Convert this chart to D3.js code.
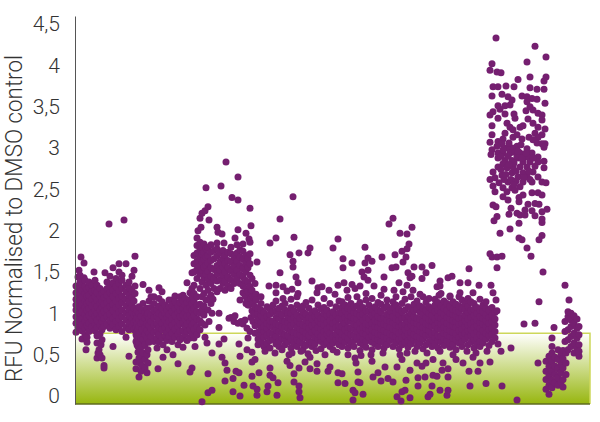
<!DOCTYPE html>
<html>
<head>
<meta charset="utf-8">
<style>
	html, body { margin: 0; padding: 0; background: #fff; }
	text { font-family: Roboto, sans-serif; font-weight: 300; fill: #333; }
</style>
<script src="https://cdn.jsdelivr.net/npm/d3@7"></script>
</head>
<body>
<svg id="chart" width="600" height="422"></svg>
<script>
	// every row is: compound index, then the RFU values read for it
	var yTicks = [0, 0.5, 1, 1.5, 2, 2.5, 3, 3.5, 4, 4.5];
	var threshold = 0.76;

	var firstBlock = [
		[1,.77,.88,.96,1.04,1.1,1.17,1.25,1.33],[3,.83,.91,.98,1.06,1.13,1.22,1.3,1.44],[4,1.52],[5,.93,1.0,1.08,1.16,1.23,1.31,1.38,1.46],
		[6,1.68],[7,.69,.79,.86,.94,1.02,1.11,1.19,1.28,1.35],[9,1.61,1.43],[10,.74,.82,.9,.99,1.07,1.15,1.24,1.32,1.4],[12,.65,.71,.85,.95,1.03,1.12,1.2,1.29],
		[11,.56],[14,.78,.88,.97,1.06,1.14,1.22,1.31,1.38],[17,.84,.92,1.0,1.09,1.17,1.26,1.34],[19,1.5],[20,.79,.87,.96,1.04,1.12,1.2,1.28,1.4],
		[22,.64,.46,.73,.83,.91,1.0,1.08,1.16,1.25,1.34],[23,.52],[24,.56],[25,.5,.75,.86,.95,1.03,1.12,1.21,1.3],[26,.62],[27,.68,.46,.8,.9,.99,1.07,1.15,1.24],
		[29,.37,.34,.84,.94,1.02,1.11,1.19,1.27],[30,1.49],[32,.87,.96,1.05,1.13,1.22,1.3,1.38],[34,2.08],[35,.82,.91,.99,1.08,1.16,1.25,1.33,1.45],
		[38,.6,.86,.94,1.03,1.11,1.2,1.28,1.37,1.55],[41,.8,.9,.98,1.07,1.15,1.24,1.32,1.42],[44,.84,.93,1.01,1.1,1.18,1.27,1.36,1.6,1.5],
		[47,.78,.87,.96,1.04,1.13,1.21,1.3,1.4,1.46],[49,2.13],[51,.71,.83,.92,1.0,1.09,1.17,1.26,1.34,1.6],[54,.48,.8,.88,.97,1.05,1.14,1.22,1.31,1.38],
		[57,.84,.93,1.01,1.1,1.19,1.27,1.45],[59,.8,.89,.98,1.06,1.15,1.52],[60,1.69,1.24,1.33]
	];

	var secondBlock = [
		[61,.33,.41,.66,.74,.83,.91,1.0],[62,.62,.7,.78,.87,.95,1.03],[63,.53,.6,.72,.8],[64,.23,.46,.65,.84,.92,1.0,1.08],[65,.4,.56,.76],[66,.3,.49,.7,.88,.96],
		[67,.37,.6,.8,1.04],[68,.52,1.35,.68,.9,1.12],[70,.34,.44,.62,.74,.83,.94,1.01],[72,.28,.5,.7,.79,.88,.97,1.06],[73,.4,.56,1.0],[74,1.28,.65,.76,.85,.93,1.15],
		[76,.72,.81,.9,.98,1.07,1.2],[79,1.2,.66,.77,.86,.95,1.03,1.12],[82,.58,.7,.79,.88,.96,1.05],[83,.33],[84,1.31,.65,.74,.83,.92,1.0,1.09,1.18],[87,1.26,.7,.8,.88,.97,1.06,1.14],
		[88,.47,.62],[90,.73,.83,.92,1.0,1.1],[92,.56,.67,.77,.87,.95,1.04],[94,.72,.81,.9,.99,1.08,1.16],[97,1.16,.66,.76,.85,.93,1.02,1.1],[98,.5],
		[100,1.21,.71,.8,.89,.97,1.06,1.14],[103,.39,.62,.74,.84,.92,1.01,1.09],[105,.68,.78,.87,.96,1.04,1.13,1.2],[108,1.22,.59,.7,.79,.89,.97,1.06,1.15],
		[110,.75,.84,.93,1.01,1.1,1.18],[112,1.37,.67,.78,.87,.96,1.05,1.13],[115,1.25,.29,.7,.8,.9,.98,1.07,1.16],[117,1.49,.34,.75,.85,.94,1.03,1.12,1.21,1.3]
	];

	var thirdBlock = [
		[119,.7,.8,.89,.97,1.06,1.15,1.24,1.34,1.5,1.6,1.7],[120,.6],[122,1.91,.74,.84,.93,1.02,1.1,1.2,1.42,1.53,1.63,1.73,1.82],[123,2.0],[125,2.15,.8,.91,1.0,1.11,1.3,1.48,1.57,1.67,1.77,1.86],
		[126,2.04],[127,2.21,-.07,.88,1.04,1.2,1.38,1.52,1.62,1.72,1.8],[129,.98,1.09,1.24,1.44,1.55,1.65,1.74,1.84,1.56],[130,2.24,.71,.86],[131,2.52,1.16,1.34,1.47,1.58,1.68,1.78],
		[132,.64],[133,2.29,.27,.04,1.04,1.28,1.41,1.51,1.61,1.7,1.8],[134,2.13,.9],[135,1.19],[136,1.12,1.22,1.36,1.45,1.55,1.64,1.74,1.83],[137,1.0,.52,.07],[138,1.17],[139,1.3,1.42,1.53,1.66,1.76],
		[142,2.04,1.26,1.39,1.48,1.58,1.69,1.78,1.85],[143,1.98],[144,1.0,.83,.63],[145,1.3,1.41,1.52,1.62,1.73],[146,2.54],[147,1.96,.47],[148,1.36,1.46,1.56,1.66,1.76],
		[149,1.85,.69],[150,.4,.18,1.28,1.39,1.5,1.6,1.7],[151,2.83],[152,.31],[153,1.33,1.44,1.55,1.64,1.74],[154,.94],[156,.95,1.3,1.4,1.51,1.62,1.72,1.8],[157,2.4],[158,.21,.05],
		[159,.9,1.36,1.47,1.57,1.68],[160,1.91,.97],[161,.3],[162,1.42,1.52,1.63,1.73,1.83],[163,2.65,2.37,2.01,.88],[164,.28,.63],[165,0,.48,1.16,1.36,1.47,1.58,1.68,1.77],[166,.9],
		[168,.87,1.25,1.33,1.44,1.54,1.65,1.75,1.84],[169,.13],[170,1.4,.92,1.22],[171,1.97,1.12,1.2,1.3,1.5,1.6,1.7],[172,.56,.82,1.15],[173,.7,1.1,1.26,1.38,1.55,1.66],[174,1.9,1.1],[175,2.27,1.86,.78,1.32,1.46,1.72,1.6],
		[176,2.06,.95,1.18,1.25],[177,.24,.53,.41,1.03,1.28,1.42],[178,.12,.9,1.12,1.2],[179,1.0],[180,.44,.76,.85,.98,1.08,1.2,1.36],[181,1.23,1.16],[182,1.62,.08,.01]
	];

	// the dense middle of the long low block
	var fourthCore = [
		[183,.62,.69,.77,.86,.92,1.0,1.06],[186,.66,.74,.81,.89,.97,1.04,1.12],[189,.6,.71,.78,.84,.93,1.01],[192,.64,.73,.82,.88,.96,1.08],[195,.58,.67,.76,.85,.91,.99,1.05],[198,.69,.75,.83,.9,1.02,1.1],
		[201,.63,.72,.8,.87,.95,1.03,1.15],[204,.6,.66,.78,.86,.94,1.0,1.06],[207,.7,.76,.84,.92,.98,1.09],[210,.62,.68,.74,.83,.9,1.04,1.12],[213,.65,.73,.81,.89,.96,1.01],[216,.58,.69,.79,.85,.93,1.0,1.07,1.17],
		[219,.64,.72,.77,.87,.95,1.03],[222,.6,.68,.75,.83,.91,.98,1.1,1.2],[225,.66,.74,.81,.88,.94,1.05],[228,.56,.63,.71,.79,.86,.97,1.02,1.09],[231,.61,.7,.76,.84,.92,.99,1.13],[234,.67,.73,.82,.89,.95,1.06],
		[237,.6,.65,.77,.85,.93,1.01,1.16],[240,.63,.71,.79,.87,.96,1.03],[243,.69,.75,.83,.91,.98,1.1],[246,.57,.66,.72,.81,.88,.94,1.05],[249,.62,.7,.78,.86,.93,1.0,1.07,1.18],[252,.65,.74,.8,.89,.97,1.04],
		[255,.6,.69,.76,.84,.91,.99,1.12],[258,.56,.64,.72,.82,.88,.95,1.02],[261,.68,.75,.83,.9,.98,1.08],[264,.62,.7,.79,.85,.94,1.01,1.15],[267,.6,.68,.75,.84,.92,1.0,1.07,1.14],[270,.65,.72,.8,.88,.95,1.03,1.1],
		[273,.58,.69,.77,.83,.91,.98,1.06,1.19],[276,.63,.74,.82,.9,.96,1.04,1.12],[279,.6,.67,.73,.81,.87,.94,1.01,1.08],[282,.7,.78,.85,.93,1.0,1.09,1.2],[285,.55,.64,.72,.8,.89,.97,1.05,1.13],[288,.62,.69,.76,.83,.92,.99,1.07],
		[291,.59,.66,.74,.82,.87,.95,1.03,1.16,1.24],[294,.71,.79,.86,.93,1.02,1.1],[297,.56,.65,.73,.8,.88,.97,1.05,1.18],[300,.63,.7,.77,.84,.91,1.0,1.08],[303,.6,.68,.75,.83,.9,.96,1.04,1.13],[306,.66,.74,.81,.88,.94,1.02,1.11,1.22],
		[309,.58,.64,.72,.79,.87,.95,1.06],[312,.62,.7,.77,.85,.92,.99,1.09,1.16],[315,.67,.75,.83,.9,.98,1.03],[318,.6,.69,.73,.81,.89,.96,1.07,1.14],[321,.64,.72,.79,.86,.93,1.01,1.1,1.2],[324,.57,.68,.76,.84,.91,.99,1.05],
		[327,.62,.7,.78,.85,.94,1.02,1.12],[330,.65,.73,.8,.87,.95,1.04,1.17],[333,.59,.67,.75,.83,.9,.97,1.08],[336,.63,.71,.77,.86,.92,1.0,1.06,1.2],[339,.68,.74,.82,.89,.96,1.03,1.11],[342,.6,.66,.72,.8,.88,.94,1.05,1.15],
		[345,.64,.7,.78,.85,.93,1.01,1.09,1.23],[348,.57,.69,.76,.83,.9,.98,1.06],[351,.62,.73,.81,.87,.95,1.03,1.13],[354,.66,.74,.79,.86,.92,1.0,1.08,1.18],[357,.6,.68,.75,.84,.91,.97,1.05],[360,.63,.71,.77,.85,.93,1.02,1.1,1.17],
		[363,.58,.67,.73,.82,.89,.96,1.04,1.13],[366,.65,.72,.8,.87,.94,1.01,1.09,1.24],[369,.61,.69,.76,.83,.9,.98,1.06,1.15],[372,.67,.74,.81,.88,.95,1.03,1.12],[375,.59,.64,.72,.79,.86,.93,1.0,1.08,1.2],[378,.62,.7,.77,.85,.91,.99,1.05,1.14],
		[381,.56,.68,.75,.83,.9,.97,1.03,1.11],[384,.64,.71,.79,.87,.94,1.02,1.09,1.2],[387,.6,.66,.74,.81,.88,.95,1.06,1.16],[390,.69,.76,.84,.91,.98,1.04,1.12],[393,.62,.72,.79,.86,.93,1.01,1.08,1.18],[396,.65,.73,.8,.87,.95,1.03,1.14],
		[399,.58,.68,.75,.83,.9,.97,1.05,1.12],[402,.63,.7,.78,.85,.92,1.0,1.07],[405,.6,.66,.74,.82,.89,.96,1.04,1.17],[408,.64,.72,.79,.87,.94,1.02,1.1],[411,.69,.76,.84,.91,.98,1.06,1.14],[414,.61,.73,.8,.88,.95,1.03],
		[417,.66,.74,.82,.9,.97,1.07],[420,.7,.78,.86,.93,1.01]
	];

	var fourthBottom = [
		[190,.54],[200,.52],[207,.56],[214,.5],[226,.54],[233,.51],[241,.55],[250,.5],[262,.53],[273,.5],[286,.49],[296,.5],[308,.52],[325,.5],[332,.52],[340,.54],[352,.52],[365,.54],[378,.5],[392,.54],[401,.52],[412,.54]
	];

	var fourthOutliers = [
		[184,.28],[186,1.2],[192,.05],[193,.12],[194,1.33],[195,1.85,.34,.25],[198,.22],[201,1.91,1.34,1.25],[202,.01],[203,.16],[205,2.14,1.49],[208,1.32,1.18],[212,1.27,.42],[215,1.71,.37],
		[217,1.29,.52],[218,2.41,1.63,1.56],[219,1.92,.27,.17],[221,1.44],[223,1.37,1.24],[224,1.73,.34,.12,.05],[225,-.02],[230,.41],[233,1.73],[235,1.79,.33,.47],[237,1.39],[242,.39,.3,1.25],[243,1.31],
		[247,1.32],[253,.3],[254,1.28],[255,.35],[258,1.79],[260,1.23],[263,1.9,1.34,.28,.16],[267,.27],[268,1.66,1.55],[269,1.37],[270,.15],[272,1.28],[277,1.61,1.35],[278,.07,-.05],[280,.04,.46,1.3],[281,.4],
		[283,.17,.29],[285,1.33,.16],[287,1.5],[288,.02],[289,1.44],[290,1.8,1.61],[293,1.67,1.52,1.4],[297,1.63,.42],[298,.23],[299,1.33],[303,.28],[306,.18],[307,1.68],[309,1.44,1.29],[310,.35],[313,.21],
		[314,2.08],[317,1.55],[318,2.15,.17],[319,1.28],[320,1.71],[321,1.56],[322,.35,-.01],[324,1.37],[325,1.97],[326,-.06],[327,1.75,.44,.05],[328,1.62,1.26],[330,.07],[331,1.68,.19],[332,1.96,1.78,1.34],
		[333,1.49],[334,1.84],[335,1.43,.31,-.02],[337,2.04,1.45],[338,1.28],[339,1.56],[342,.4],[343,.22,.12],[347,1.56,1.42,.36],[348,1.2],[350,.23],[351,1.49,.4],[353,-.01],[355,.02],[357,1.58,.12],[358,.44,.25],
		[362,1.32,.24],[364,1.22],[365,1.39,1.33,.07],[367,.31],[368,.4],[372,.01],[373,1.43,.33,.23,.07],[375,1.21],[377,1.45],[381,.44],[385,1.37,1.25],[388,.4],[393,1.37],[394,1.54,.3],[395,.12],[398,1.25,.47],
		[403,.3],[404,1.34],[405,.4],[411,.15],[415,.41],[416,1.34],[418,1.25],[421,1.16],[422,1.55,1.03],[423,.63],[426,.54],[427,.12]
	];

	var highBlock = [
		[421,4.33],[460,4.23],[471,4.1],[452,4.04],[417,4.02],[415,3.94],[422,3.92],[426,3.91],[443,3.83],[455,3.86],[471,3.86],[469,3.81],[418,3.74],[423,3.74],[431,3.75],[439,3.74],
		[455,3.73],[462,3.71],[469,3.71],[417,3.63],[427,3.65],[433,3.62],[437,3.58],[447,3.63],[452,3.62],[457,3.6],[462,3.59],[470,3.54],[452,3.56],[435,3.52],[430,3.51],[423,3.51],
		[425,3.47],[418,3.44],[415,3.4],[423,3.36],[430,3.41],[439,3.41],[440,3.36],[451,3.45],[455,3.5],[458,3.46],[463,3.42],[467,3.4],[467,3.34],[453,3.35],[458,3.3],[432,3.3],
		[435,3.25],[438,3.22],[445,3.25],[448,3.27],[417,3.27],[463,3.25],[470,3.23],[460,3.18],[467,3.16],[417,3.16],[430,3.18],[438,3.13],[442,3.16],[454,3.13],[463,3.13],[447,3.11],
		[428,3.11],[423,3.08],[415,3.07],[458,3.1],[462,3.06],[470,3.05],[467,3.05],[469,3.01],[427,3.05],[422,3.02],[452,2.99],[442,3.02],[437,3.0],[432,3.0],[417,2.98],[416,2.92],
		[423,2.94],[428,2.94],[435,2.94],[440,2.95],[445,2.94],[457,2.94],[463,2.89],[452,2.89],[423,2.88],[430,2.85],[437,2.85],[443,2.88],[448,2.83],[455,2.83],[463,2.83],[469,2.84],
		[469,2.76],[428,2.81],[438,2.77],[423,2.77],[432,2.76],[445,2.77],[452,2.77],[418,2.71],[437,2.7],[448,2.7],[458,2.71],[427,2.67],[443,2.65],[463,2.65],[415,2.62],[420,2.64],
		[433,2.59],[448,2.59],[457,2.59],[467,2.59],[471,2.58],[418,2.54],[428,2.52],[437,2.52],[445,2.53],[420,2.47],[432,2.47],[440,2.49],[457,2.46],[463,2.46],[467,2.43],[448,2.43],
		[428,2.41],[433,2.37],[444,2.4],[444,2.35],[418,2.31],[421,2.29],[453,2.32],[460,2.33],[464,2.32],[436,2.27],[450,2.25],[457,2.24],[472,2.26],[467,2.23],[434,2.2],[442,2.21],
		[445,2.19],[450,2.19],[460,2.18],[422,2.17],[419,2.12],[467,2.14],[467,2.1],[444,2.09],[435,2.02],[425,1.97],[467,1.94],[464,1.89],[444,1.91],[447,1.89],[452,1.79],[456,1.69],
		[415,1.72],[417,1.68],[422,1.68],[427,1.69],
		[426,2.9],[433,2.9],[439,2.82],[442,2.9],[447,2.88],[451,2.94],[434,2.8],[426,2.74],[441,2.72],[429,2.62],[436,2.62],[441,2.6],[452,2.66],[455,2.62],[460,2.78],[424,2.58],[431,2.68],[446,3.04],[434,3.06],
		[449,2.64],[439,2.56],[428,2.98],[454,2.72],[458,2.88],[443,2.96]
	];

	var tailBlock = [
		[468,1.5],[490,1.34],[464,1.14],[494,1.16],[449,.87],[460,.88],[479,.83],[477,.7,.6],[436,.58],[463,.4],[442,-.05],
		[471,.08,.2,.3,.42],[474,.02,.13,.25,.36,.48],[477,.1,.19,.3,.42,.52],[480,.16,.26,.36,.47],[483,.13,.22,.33,.44,.56],[486,.17,.28,.38,.5],[488,.2,.11,.34,.45,.55],[491,.26,.4,.52],
		[490,.66,.78,.9],[493,.56,.68,.8,.96,1.02],[496,.6,.72,.84,.92,1.0],[499,.52,.64,.76,.88,.97],[502,.58,.7,.82,.93],[504,.62,.74,.84,.48,.54]
	];

	var rows = firstBlock.concat(secondBlock, thirdBlock, fourthCore, fourthBottom, fourthOutliers, highBlock, tailBlock);
	var points = [];
	rows.forEach(function(row){
		row.slice(1).forEach(function(v){
			points.push({compound: row[0], rfu: v});
		});
	});

	var svg = d3.select('#chart');

	var x = d3.scaleLinear().domain([0, 515]).range([75, 590]);
	var y = d3.scaleLinear().domain([-0.097, 4.597]).range([404, 16]);

	var defs = svg.append('defs');
	var grad = defs.append('linearGradient')
		.attr('id', 'band')
		.attr('x1', 0).attr('y1', 0).attr('x2', 0).attr('y2', 1);
	grad.append('stop').attr('offset', '0%').attr('stop-color', '#ffffff');
	grad.append('stop').attr('offset', '100%').attr('stop-color', '#97b60f');

	// hit threshold band
	svg.append('rect')
		.attr('x', x(0))
		.attr('y', y(threshold))
		.attr('width', x(515) - x(0))
		.attr('height', y(-0.097) - y(threshold))
		.attr('fill', 'url(#band)');
	svg.append('path')
		.attr('d', 'M' + x(0) + ',' + y(threshold) + 'H' + x(515) + 'V' + y(-0.097))
		.attr('fill', 'none')
		.attr('stroke', '#cdd75a')
		.attr('stroke-width', 1.5);
	svg.append('line')
		.attr('x1', x(0)).attr('x2', x(515))
		.attr('y1', y(-0.097)).attr('y2', y(-0.097))
		.attr('stroke', '#5f6b1f')
		.attr('stroke-width', 1.5);

	svg.selectAll('circle')
		.data(points)
		.enter()
		.append('circle')
			.attr('cx', (d) => x(d.compound))
			.attr('cy', (d) => y(d.rfu))
			.attr('r', 3.5)
			.attr('fill', '#751f70');

	var axis = d3.axisLeft(y)
		.tickValues(yTicks)
		.tickSize(0)
		.tickPadding(15)
		.tickFormat((d) => String(d).replace('.', ','));

	var g = svg.append('g')
		.attr('transform', 'translate(75,0)')
		.call(axis);
	g.select('.domain').attr('stroke', '#555').attr('stroke-width', 1);
	g.selectAll('text').style('font-size', '21px').style('font-family', 'Roboto, sans-serif').style('font-weight', 300).attr('fill', '#333');

	svg.append('text')
		.attr('transform', 'translate(22,218.5) rotate(-90)')
		.attr('text-anchor', 'middle')
		.attr('textLength', 327)
		.attr('lengthAdjust', 'spacingAndGlyphs')
		.style('font-size', '23px')
		.text('RFU Normalised to DMSO control');
</script>
</body>
</html>
